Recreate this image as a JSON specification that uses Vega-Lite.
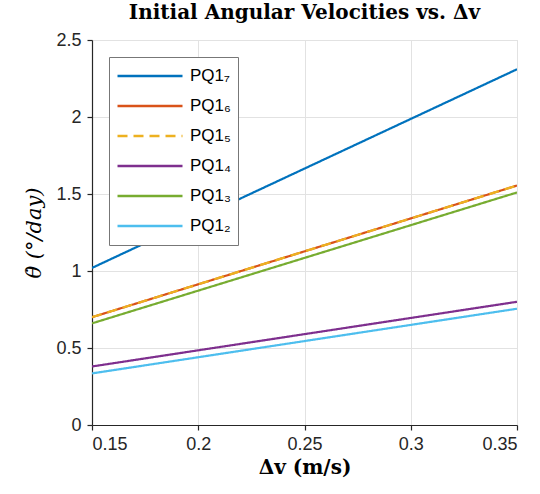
{
  "$schema": "https://vega.github.io/schema/vega-lite/v6.json",
  "width": 425,
  "height": 385,
  "autosize": {"type": "none"},
  "padding": {"left": 92, "top": 40, "right": 23, "bottom": 69},
  "background": "white",
  "title": {
    "text": "Initial Angular Velocities vs. Δv",
    "font": "DejaVu Serif",
    "fontSize": 20,
    "fontWeight": "bold",
    "color": "black",
    "offset": 8
  },
  "data": {
    "values": [
      {"s": "PQ1₇", "dv": 0.15, "w": 1.02},
      {"s": "PQ1₇", "dv": 0.35, "w": 2.31},
      {"s": "PQ1₆", "dv": 0.15, "w": 0.70},
      {"s": "PQ1₆", "dv": 0.35, "w": 1.555},
      {"s": "PQ1₅", "dv": 0.15, "w": 0.70},
      {"s": "PQ1₅", "dv": 0.35, "w": 1.555},
      {"s": "PQ1₄", "dv": 0.15, "w": 0.38},
      {"s": "PQ1₄", "dv": 0.35, "w": 0.80},
      {"s": "PQ1₃", "dv": 0.15, "w": 0.66},
      {"s": "PQ1₃", "dv": 0.35, "w": 1.51},
      {"s": "PQ1₂", "dv": 0.15, "w": 0.335},
      {"s": "PQ1₂", "dv": 0.35, "w": 0.755}
    ]
  },
  "mark": {"type": "line", "strokeWidth": 2.2, "clip": true},
  "encoding": {
    "x": {
      "field": "dv",
      "type": "quantitative",
      "scale": {"domain": [0.15, 0.35], "nice": false, "zero": false},
      "axis": {
        "values": [0.15, 0.2, 0.25, 0.3, 0.35],
        "format": ".2~f",
        "title": "Δv (m/s)",
        "titleFont": "DejaVu Serif",
        "titleFontSize": 20,
        "titleFontWeight": "bold",
        "titleColor": "black",
        "titlePadding": 4,
        "labelFont": "Liberation Sans",
        "labelFontSize": 18,
        "labelColor": "#262626",
        "labelPadding": 5,
        "tickSize": 5,
        "tickColor": "#262626",
        "tickWidth": 1.2,
        "domainColor": "#262626",
        "domainWidth": 1.2,
        "gridColor": "#e2e2e2",
        "gridWidth": 1
      }
    },
    "y": {
      "field": "w",
      "type": "quantitative",
      "scale": {"domain": [0, 2.5], "nice": false},
      "axis": {
        "values": [0, 0.5, 1, 1.5, 2, 2.5],
        "format": ".1~f",
        "title": "θ̇ (°/day)",
        "titleFont": "DejaVu Serif",
        "titleFontSize": 21,
        "titleFontStyle": "italic",
        "titleFontWeight": "normal",
        "titleColor": "black",
        "titlePadding": 11,
        "labelFont": "Liberation Sans",
        "labelFontSize": 18,
        "labelColor": "#262626",
        "labelPadding": 6,
        "tickSize": 5,
        "tickColor": "#262626",
        "tickWidth": 1.2,
        "domainColor": "#262626",
        "domainWidth": 1.2,
        "gridColor": "#e2e2e2",
        "gridWidth": 1
      }
    },
    "color": {
      "field": "s",
      "type": "nominal",
      "scale": {
        "domain": ["PQ1₇", "PQ1₆", "PQ1₅", "PQ1₄", "PQ1₃", "PQ1₂"],
        "range": ["#0072BD", "#D95319", "#EDB120", "#7E2F8E", "#77AC30", "#4DBEEE"]
      },
      "legend": {
        "title": null,
        "orient": "none",
        "legendX": 17,
        "legendY": 17,
        "symbolType": "stroke",
        "symbolSize": 4225,
        "symbolStrokeWidth": 2.5,
        "clipHeight": 24,
        "rowPadding": 6,
        "labelFont": "Liberation Sans",
        "labelFontSize": 17,
        "labelColor": "black",
        "fillColor": "white",
        "strokeColor": "#777777",
        "padding": 7,
        "labelOffset": 6
      }
    },
    "strokeDash": {
      "field": "s",
      "type": "nominal",
      "scale": {
        "domain": ["PQ1₇", "PQ1₆", "PQ1₅", "PQ1₄", "PQ1₃", "PQ1₂"],
        "range": [[1, 0], [1, 0], [10, 6], [1, 0], [1, 0], [1, 0]]
      },
      "legend": {
        "title": null,
        "orient": "none",
        "legendX": 17,
        "legendY": 17,
        "symbolType": "stroke",
        "symbolSize": 4225,
        "symbolStrokeWidth": 2.5,
        "clipHeight": 24,
        "rowPadding": 6,
        "labelFont": "Liberation Sans",
        "labelFontSize": 17,
        "labelColor": "black",
        "fillColor": "white",
        "strokeColor": "#777777",
        "padding": 7,
        "labelOffset": 6
      }
    }
  }
}
